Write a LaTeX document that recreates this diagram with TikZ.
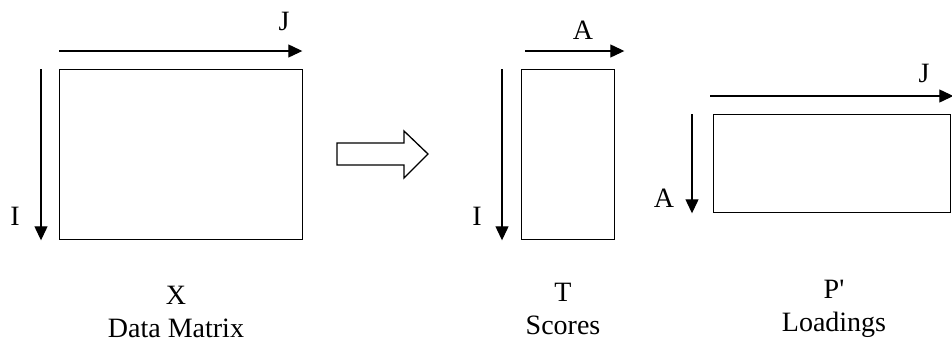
\documentclass[tikz,border=0pt]{standalone}
\usepackage{fontspec}
\setmainfont{Liberation Serif}
\usetikzlibrary{arrows.meta}

\tikzset{
    mat/.style={draw, line width=0.65pt, inner sep=0pt, anchor=north west},
    axis/.style={line width=0.6pt, -{Triangle[length=7pt,width=6.5pt]}},
    lbl/.style={inner sep=0pt, font=\fontsize{14}{16.5}\selectfont},
    matname/.style={lbl, align=center, anchor=north}
}

\begin{document}
\begin{tikzpicture}[x=0.5pt, y=-0.5pt]
    \useasboundingbox (0,0) rectangle (952,343);

    % the three matrices
    \node[mat, minimum width=121.5pt, minimum height=85pt] (X) at (59,69) {};
    \node[mat, minimum width=46.5pt, minimum height=85pt] (T) at (521,69) {};
    \node[mat, minimum width=118.5pt, minimum height=49pt] (P) at (713,114) {};

    % X: I rows, J columns
    \draw[axis] ([yshift=9pt]X.north west) -- ([shift={(-0.5pt,9pt)}]X.north east);
    \draw[axis] ([xshift=-9pt]X.north west) -- ([xshift=-9pt]X.south west);
    \node[lbl] (XJ) at (284,21) {J};
    \node[lbl] (XI) at (15,216) {I};
    \node[matname] (Xname) at (176,286) {X\\Data Matrix};

    % block arrow between X and T P'
    \draw[line width=0.65pt] (337,143) -- (404,143) -- (404,131) -- (428,154)
        -- (404,178) -- (404,165) -- (337,165) -- cycle;

    % T: I rows, A columns
    \draw[axis] ([shift={(2pt,9pt)}]T.north west) -- ([shift={(4.5pt,9pt)}]T.north east);
    \draw[axis] ([xshift=-9.5pt]T.north west) -- ([xshift=-9.5pt]T.south west);
    \node[lbl] (TA) at (583,30) {A};
    \node[lbl] (TI) at (477,216) {I};
    \node[matname] (Tname) at (563,283) {T\\Scores};

    % P': A rows, J columns
    \draw[axis] ([shift={(-1.5pt,9pt)}]P.north west) -- ([shift={(1pt,9pt)}]P.north east);
    \draw[axis] ([xshift=-10.5pt]P.north west) -- ([xshift=-10.5pt]P.south west);
    \node[lbl] (PJ) at (924,73) {J};
    \node[lbl] (PA) at (664,198) {A};
    \node[matname] (Pname) at (834,280) {P\textquotesingle\\Loadings};
\end{tikzpicture}
\end{document}
